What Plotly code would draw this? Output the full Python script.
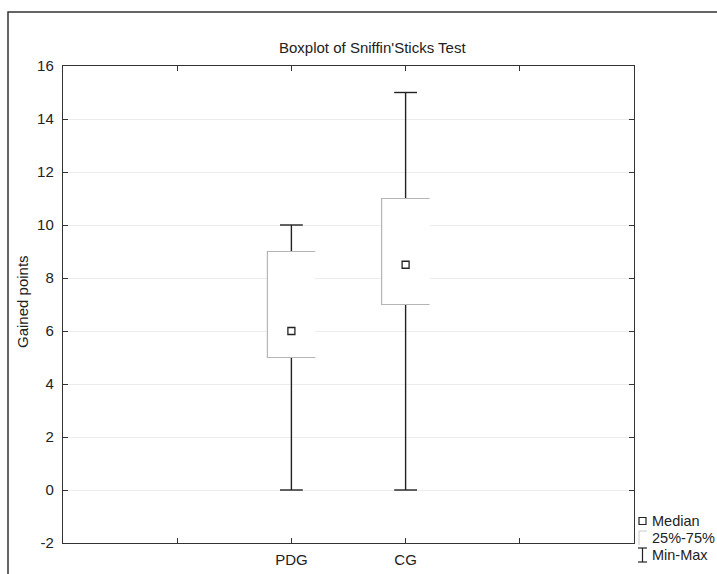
import plotly.graph_objects as go

# ---- data ----
groups = ["PDG", "CG"]
group_pos = [2, 3]
q1 = [5, 7]
q3 = [9, 11]
medians = [6, 8.5]
mins = [0, 0]
maxs = [10, 15]
y_ticks = [-2, 0, 2, 4, 6, 8, 10, 12, 14, 16]
y_tick_text = ["-2", "0", "2", "4", "6", "8", "10", "12", "14", "16"]
x_ticks = [1, 2, 3, 4]
x_tick_text = ["", "PDG", "CG", ""]

BOX_HALF = 0.21
CAP_HALF = 0.1
FONT = "Liberation Sans, Arial, sans-serif"
FS = 15

# plot area in pixels
L, R, T, B = 63, 634, 66, 543
W, H = 717, 574
def fx(px):
    return (px - L) / (R - L)
def fy(py):
    return (B - py) / (B - T)

fig = go.Figure()

line_style = dict(color="#222", width=1.4)
# whiskers (drawn first, box covers)
for xp, lo, hi, a, b in zip(group_pos, mins, maxs, q1, q3):
    fig.add_trace(go.Scatter(x=[xp, xp], y=[b, hi], mode="lines", line=line_style,
                             showlegend=False, hoverinfo="skip"))
    fig.add_trace(go.Scatter(x=[xp, xp], y=[lo, a], mode="lines", line=line_style,
                             showlegend=False, hoverinfo="skip"))
    fig.add_trace(go.Scatter(x=[xp - CAP_HALF, xp + CAP_HALF], y=[hi, hi], mode="lines",
                             line=line_style, showlegend=False, hoverinfo="skip"))
    fig.add_trace(go.Scatter(x=[xp - CAP_HALF, xp + CAP_HALF], y=[lo, lo], mode="lines",
                             line=line_style, showlegend=False, hoverinfo="skip"))

# boxes: white fill (hides grid), light grey left/top/bottom edges
fig.add_trace(go.Bar(x=group_pos, y=[b - a for a, b in zip(q1, q3)], base=q1, width=2 * BOX_HALF,
                     marker=dict(color="white", line=dict(width=0)),
                     showlegend=False, hoverinfo="skip"))
for xp, a, b in zip(group_pos, q1, q3):
    fig.add_trace(go.Scatter(x=[xp + BOX_HALF, xp - BOX_HALF, xp - BOX_HALF, xp + BOX_HALF],
                             y=[a, a, b, b], mode="lines",
                             line=dict(color="#b5b5b5", width=1.2),
                             showlegend=False, hoverinfo="skip"))

# medians
fig.add_trace(go.Scatter(x=group_pos, y=medians, mode="markers",
                         marker=dict(symbol="square", size=7, color="white",
                                     line=dict(color="#222", width=1.3)),
                         showlegend=False, hoverinfo="skip"))

shapes = []
# outer frame
shapes.append(dict(type="rect", xref="paper", yref="paper",
                   x0=fx(8), x1=fx(760), y0=fy(620), y1=fy(12),
                   line=dict(color="#333", width=1.5), fillcolor="rgba(0,0,0,0)", layer="below"))
# legend symbols
shapes.append(dict(type="rect", xref="paper", yref="paper",
                   x0=fx(639), x1=fx(646), y0=fy(524.5), y1=fy(517.5),
                   line=dict(color="#222", width=1.2), fillcolor="white"))
shapes.append(dict(type="path", xref="paper", yref="paper",
                   path=f"M {fx(639)},{fy(545)} L {fx(639)},{fy(531)} L {fx(647)},{fy(531)}",
                   line=dict(color="#c8c8c8", width=1)))
shapes.append(dict(type="line", xref="paper", yref="paper",
                   x0=fx(642.5), x1=fx(642.5), y0=fy(548), y1=fy(562), line=dict(color="#222", width=1.2)))
shapes.append(dict(type="line", xref="paper", yref="paper",
                   x0=fx(638), x1=fx(647), y0=fy(548), y1=fy(548), line=dict(color="#222", width=1.2)))
shapes.append(dict(type="line", xref="paper", yref="paper",
                   x0=fx(638), x1=fx(647), y0=fy(562), y1=fy(562), line=dict(color="#222", width=1.2)))

annotations = []
for txt, py in [("Median", 521), ("25%-75%", 538), ("Min-Max", 555)]:
    annotations.append(dict(text=txt, xref="paper", yref="paper", x=fx(650), y=fy(py),
                            xanchor="left", yanchor="middle", showarrow=False,
                            font=dict(family=FONT, size=14.5, color="#222")))
annotations.append(dict(text="Gained points", xref="paper", yref="paper", x=fx(22), y=fy(302),
                        textangle=-90, xanchor="center", yanchor="middle", showarrow=False,
                        font=dict(family=FONT, size=FS, color="#222")))
annotations.append(dict(text="Boxplot of Sniffin'Sticks Test", xref="paper", yref="paper",
                        x=fx(277), y=fy(47), xanchor="left", yanchor="middle", showarrow=False,
                        font=dict(family=FONT, size=FS, color="#222")))

fig.update_layout(
    width=W, height=H,
    margin=dict(l=L, r=W - R, t=T, b=H - B, pad=0, autoexpand=False),
    paper_bgcolor="white", plot_bgcolor="white",
    font=dict(family=FONT, size=FS, color="#222"),
    shapes=shapes, annotations=annotations,
    bargap=0,
    xaxis=dict(range=[0, 5], tickmode="array", tickvals=x_ticks, ticktext=x_tick_text,
               automargin=False,
               showgrid=False, zeroline=False, showline=True, linecolor="#333", linewidth=1.4,
               mirror="ticks", ticks="inside", ticklen=5, tickcolor="#333", ticklabelstandoff=3),
    yaxis=dict(range=[-2, 16], tickmode="array", tickvals=y_ticks, ticktext=y_tick_text,
               automargin=False,
               showgrid=True, gridcolor="#ececec", gridwidth=1, zeroline=False,
               showline=True, linecolor="#333", linewidth=1.4,
               mirror="ticks", ticks="inside", ticklen=5, tickcolor="#333", ticklabelstandoff=5),
)

fig.write_html("out.html")
